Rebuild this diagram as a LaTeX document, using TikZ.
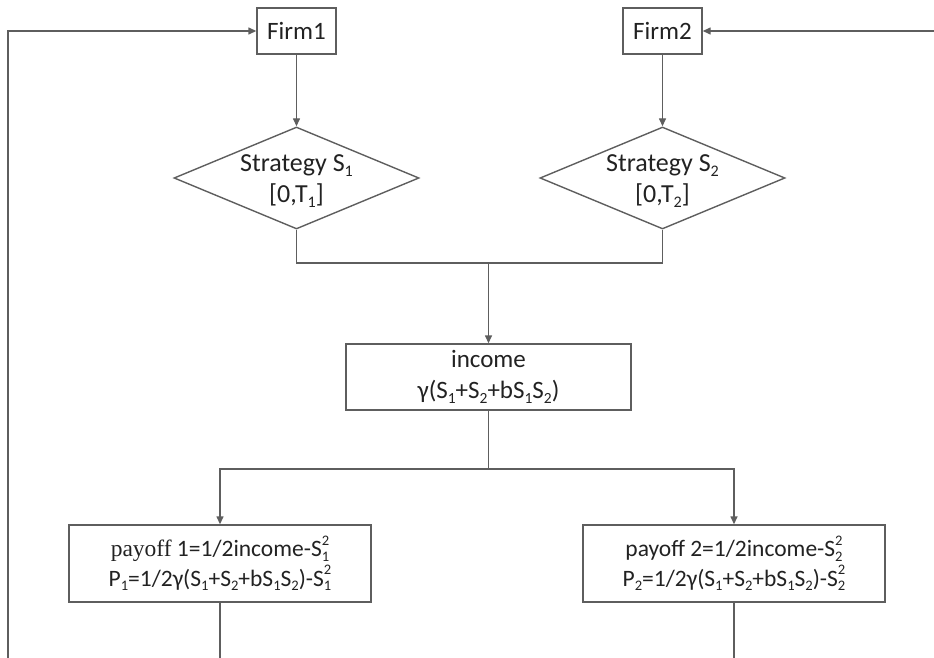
\documentclass[tikz,border=0pt]{standalone}
\usepackage{fontspec}
\setmainfont{Carlito}
\newfontfamily\serifpart{Liberation Serif}
\usetikzlibrary{shapes.geometric,arrows.meta}
\definecolor{linegray}{HTML}{5E5E5E}
\definecolor{txt}{HTML}{222222}
\newcommand\lo[1]{\raisebox{-0.2em}{\fontsize{0.62em}{1em}\selectfont #1}}
\newcommand\losq[1]{\makebox[0pt][l]{\raisebox{0.48em}{\fontsize{0.62em}{1em}\selectfont 2}}\lo{#1}}
\newcommand\Sb[1]{S\lo{#1}}
\newcommand\Ssq[1]{S\losq{#1}}
\tikzset{
  conn/.style={draw=linegray, line width=1.4pt},
  arr/.style={conn, -{Triangle[length=8pt,width=7pt]}},
  boxnode/.style={draw=linegray, line width=1.4pt, rectangle, inner sep=0pt, align=center, text=txt,
    font=\fontsize{25}{31}\selectfont},
  decnode/.style={draw=linegray, line width=1.4pt, diamond, inner sep=0pt, aspect=2.4},
  dectext/.style={text=txt, align=center, inner sep=0pt, font=\fontsize{26}{31}\selectfont},
  payfont/.style={font=\fontsize{23.5}{29.5}\selectfont},
}
\begin{document}
\begin{tikzpicture}[x=1pt,y=-1pt]
\useasboundingbox (0,0) rectangle (934,658);
\node[boxnode, minimum width=79pt, minimum height=46pt] (f1) at (296.5,31) {Firm1};
\node[boxnode, minimum width=79pt, minimum height=46pt] (f2) at (662.5,31) {Firm2};
\node[decnode, minimum width=245pt, minimum height=102pt] (d1) at (296.5,178) {};
\node[decnode, minimum width=245pt, minimum height=102pt] (d2) at (662.5,178) {};
\node[dectext] (t1) at (296.5,181) {Strategy \Sb{1}\\{}[0,T\lo{1}]};
\node[dectext] (t2) at (662.5,181) {Strategy \Sb{2}\\{}[0,T\lo{2}]};
\node[boxnode, minimum width=285pt, minimum height=66pt] (inc) at (488.5,377) {income\\γ(\Sb{1}+\Sb{2}+b\Sb{1}\Sb{2})};
\node[boxnode, payfont, minimum width=302pt, minimum height=77pt] (p1) at (220,563.5) {{\serifpart payoff} 1=1/2income-\Ssq{1}\\P\lo{1}=1/2γ(\Sb{1}+\Sb{2}+b\Sb{1}\Sb{2})-\Ssq{1}};
\node[boxnode, payfont, minimum width=302pt, minimum height=77pt] (p2) at (734,563.5) {payoff 2=1/2income-\Ssq{2}\\P\lo{2}=1/2γ(\Sb{1}+\Sb{2}+b\Sb{1}\Sb{2})-\Ssq{2}};
\coordinate (loopL) at (8,658);
\coordinate (loopR) at (934,31);
\coordinate (m) at (488.5,263);
\coordinate (s) at (488.5,469);
\coordinate (b1) at (220,658);
\coordinate (b2) at (734,658);
\draw[arr] (loopL) |- (f1.west);
\draw[arr] (loopR) -- (f2.east);
\draw[arr] (f1) -- (d1);
\draw[arr] (f2) -- (d2);
\draw[conn] (d1.south) |- (m) -| (d2.south);
\draw[arr] (m) -- (inc);
\draw[conn] (inc) -- (s);
\draw[arr] (s) -| (p1);
\draw[arr] (s) -| (p2);
\draw[conn] (p1) -- (b1);
\draw[conn] (p2) -- (b2);
\end{tikzpicture}
\end{document}
